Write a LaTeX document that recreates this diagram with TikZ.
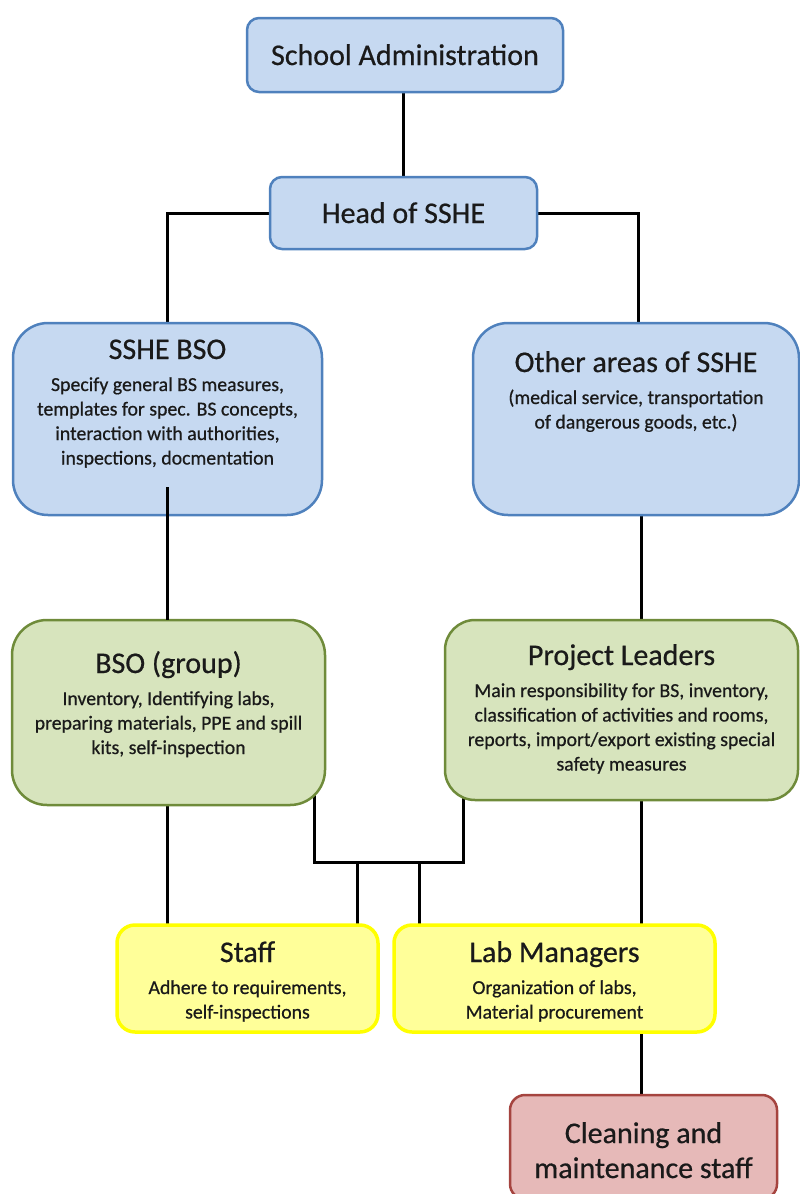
\documentclass[tikz,border=0pt]{standalone}
\usepackage{fontspec}
\setmainfont{Carlito}[FakeBold=0.6]
\usetikzlibrary{backgrounds}
\definecolor{blueF}{HTML}{C6D9F1}
\definecolor{blueB}{HTML}{4F81BD}
\definecolor{greenF}{HTML}{D7E4BD}
\definecolor{greenB}{HTML}{6F8B3A}
\definecolor{yellowF}{HTML}{FFFF99}
\definecolor{yellowB}{HTML}{FFFF00}
\definecolor{pinkF}{HTML}{E6B9B8}
\definecolor{pinkB}{HTML}{A5443F}
\definecolor{txt}{HTML}{1A1A1A}
% H, W, T, title, body
\newcommand\bx[5]{\parbox[c][#1pt][t]{#2pt}{\centering\fontsize{30}{36}\selectfont\rule{0pt}{#3pt}#4\par
  \vspace{7.5pt}\fontsize{19.8}{24.5}\selectfont #5\par}}
% H, W, T, text
\newcommand\bxx[4]{\parbox[c][#1pt][t]{#2pt}{\centering\fontsize{30}{35}\selectfont\rule{0pt}{#3pt}#4\par}}
\tikzset{
  basebox/.style={rectangle, inner sep=0pt, outer sep=0pt, text=txt, line width=2.5pt},
  bluebox/.style={basebox, draw=blueB, fill=blueF},
  greenbox/.style={basebox, draw=greenB, fill=greenF},
  yellowbox/.style={basebox, draw=yellowB, fill=yellowF, line width=3.5pt},
  pinkbox/.style={basebox, draw=pinkB, fill=pinkF},
  conn/.style={line width=3pt, draw=black},
}
\begin{document}
\begin{tikzpicture}[x=1pt, y=-1pt]
\useasboundingbox (0,0) rectangle (800,1194);
\clip (0,0) rectangle (800,1194);

\node[bluebox, rounded corners=12pt, minimum width=316pt, minimum height=74pt] (admin) at (405,55)
  {\bxx{74}{300}{47}{School Administration}};
\node[bluebox, rounded corners=12pt, minimum width=267pt, minimum height=72pt] (head) at (403.5,213)
  {\bxx{72}{250}{46}{Head of SSHE}};
\node[bluebox, rounded corners=35pt, minimum width=309pt, minimum height=192pt] (sshebso) at (167.5,419)
  {\bx{192}{300}{36}{SSHE BSO}{Specify general BS measures,\\ templates for spec. BS concepts,\\ interaction with authorities,\\ inspections, docmentation}};
\node[bluebox, rounded corners=35pt, minimum width=326pt, minimum height=192pt] (other) at (636,419)
  {\bx{192}{316}{49}{Other areas of SSHE}{(medical service, transportation\\ of dangerous goods, etc.)}};
\node[greenbox, rounded corners=35pt, minimum width=313pt, minimum height=185pt] (bsog) at (168.5,712.5)
  {\bx{185}{305}{53}{BSO (group)}{Inventory, Identifying labs,\\ preparing materials, PPE and spill\\ kits, self-inspection}};
\node[greenbox, rounded corners=30pt, minimum width=353pt, minimum height=180pt] (pl) at (621.5,710)
  {\bx{180}{345}{45}{Project Leaders}{Main responsibility for BS, inventory,\\ classification of activities and rooms,\\ reports, import/export existing special\\ safety measures}};
\node[yellowbox, rounded corners=18pt, minimum width=261pt, minimum height=107pt] (staff) at (247.5,978.5)
  {\bx{107}{250}{37}{Staff}{Adhere to requirements,\\ self-inspections}};
\node[yellowbox, rounded corners=18pt, minimum width=321pt, minimum height=107pt] (lab) at (554.5,978.5)
  {\bx{107}{310}{37}{Lab Managers}{Organization of labs,\\ Material procurement}};
\node[pinkbox, rounded corners=15pt, minimum width=267pt, minimum height=104pt] (clean) at (643.5,1147)
  {\bxx{104}{255}{48}{Cleaning and\\ maintenance staff}};

\coordinate (busy) at (0,862);
\coordinate (dropS) at (357,862);
\coordinate (dropL) at (419,862);
\coordinate (busL) at ([xshift=-11pt,yshift=20pt]bsog.south east);
\coordinate (busR) at ([xshift=18pt,yshift=20pt]pl.south west);

\begin{scope}[on background layer]
\draw[conn] (admin.south -| head.north) -- (head.north);
\draw[conn] (head.west) -| (sshebso.north);
\draw[conn] (head.east) -| ([xshift=2pt]other.north);
\draw[conn] ([xshift=5pt]other.south) -- ([xshift=5pt]other.south |- pl.north);
\draw[conn] ([xshift=-1pt]bsog.south) -- ([xshift=-1pt]bsog.south |- staff.north);
\draw[conn] (busL) -- (busL |- busy) -- (busR |- busy) -- (busR);
\draw[conn] (dropS) -- (dropS |- staff.north);
\draw[conn] (dropL) -- (dropL |- lab.north);
\draw[conn] ([xshift=19.5pt]pl.south) -- ([xshift=19.5pt]pl.south |- lab.north);
\draw[conn] ([xshift=-2.5pt]clean.north) -- ([xshift=-2.5pt]clean.north |- lab.south);
\end{scope}
\draw[conn] ([xshift=-0.5pt,yshift=28pt]sshebso.south) -- ([xshift=-0.5pt]sshebso.south |- bsog.north);
\end{tikzpicture}
\end{document}
